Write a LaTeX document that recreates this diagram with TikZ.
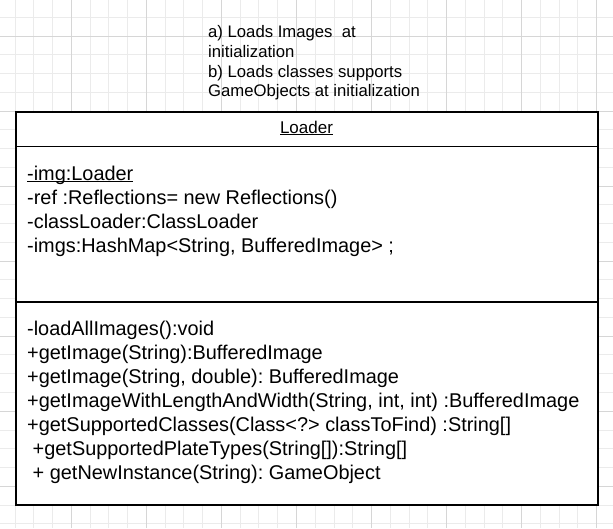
\documentclass[tikz,border=0pt]{standalone}
\usepackage{fontspec}
\setmainfont{Liberation Sans}
\frenchspacing
% underline at a fixed distance below the baseline
\newcommand\fixedul[1]{\setbox0\hbox{#1}\rlap{\vrule height -0.9pt depth 2.2pt width \wd0}\box0}
\begin{document}
\begin{tikzpicture}[x=1pt,y=-1pt,
  gridminor/.style={draw=black!8, line width=0.8pt},
  gridmajor/.style={draw=black!16, line width=0.8pt},
  umlbox/.style={draw=black, line width=1.8pt, fill=white, inner sep=0pt},
  divider/.style={draw=black, line width=1.8pt},
  member/.style={anchor=base west, inner sep=0pt, font=\fontsize{19.9}{24}\selectfont},
  classname/.style={anchor=base, inner sep=0pt, font=\fontsize{17}{20}\selectfont},
  notetext/.style={anchor=base west, inner sep=0pt, font=\fontsize{16.7}{19.5}\selectfont}
]
\useasboundingbox (0,0) rectangle (613,528);
\fill[white] (0,0) rectangle (613,528);

% background grid
\foreach \k in {0,...,31}{
  \pgfmathsetmacro\gx{15+18.76*\k}
  \draw[gridminor] (\gx,0) -- (\gx,528);
}
\foreach \k in {-5,...,22}{
  \pgfmathsetmacro\gy{111+18.76*\k}
  \draw[gridminor] (0,\gy) -- (613,\gy);
}
\foreach \k in {3,7,...,31}{
  \pgfmathsetmacro\gx{15+18.76*\k}
  \draw[gridmajor] (\gx,0) -- (\gx,528);
}
\foreach \k in {-4,0,...,20}{
  \pgfmathsetmacro\gy{111+18.76*\k}
  \draw[gridmajor] (0,\gy) -- (613,\gy);
}

% note above the class
\node[notetext] (n1) at (208,37.5) {a) Loads Images\ \ at};
\node[notetext] (n2) at (208,57) {initialization};
\node[notetext] (n3) at (208,77.3) {b) Loads classes supports};
\node[notetext] (n4) at (208,96.8) {GameObjects at initialization};

% class box
\node[umlbox, anchor=north west, minimum width=581.7pt, minimum height=393.3pt] (loader) at (15,111) {};
\coordinate (hdL) at (15,146.5);
\coordinate (hdR) at (596.7,146.5);
\coordinate (cmL) at (15,301.7);
\coordinate (cmR) at (596.7,301.7);
\draw[divider] (hdL) -- (hdR);
\draw[divider] (cmL) -- (cmR);

\node[classname] (title) at (306.5,133) {\fixedul{Loader}};

% attributes
\node[member] (a1) at (27,180) {\fixedul{-img:Loader}};
\node[member] (a2) at (27,204) {-ref :Reflections= new Reflections()};
\node[member] (a3) at (27,228) {-classLoader:ClassLoader};
\node[member] (a4) at (27,252) {-imgs:HashMap<String, BufferedImage> ;};

% operations
\node[member] (m1) at (27,335.5) {-loadAllImages():void};
\node[member] (m2) at (27,359.5) {+getImage(String):BufferedImage};
\node[member] (m3) at (27,383.6) {+getImage(String, double): BufferedImage};
\node[member] (m4) at (27,407.7) {+getImageWithLengthAndWidth(String, int, int) :BufferedImage};
\node[member] (m5) at (27,431.7) {+getSupportedClasses(Class<?> classToFind) :String[]};
\node[member] (m6) at (27,455.8) {\ +getSupportedPlateTypes(String[]):String[]};
\node[member] (m7) at (27,479.8) {\ + getNewInstance(String): GameObject};
\end{tikzpicture}
\end{document}
